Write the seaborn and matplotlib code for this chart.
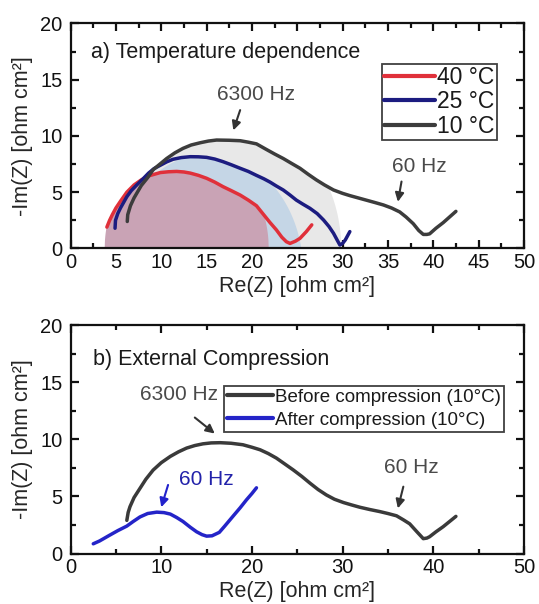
import numpy as np
import pandas as pd
import matplotlib
matplotlib.use("Agg")
import matplotlib.pyplot as plt
import seaborn as sns
from matplotlib.ticker import MultipleLocator

# ---------------- data ----------------
# Panel a) temperature dependence (Re, -Im in ohm cm²)
t40_re = [4.0, 4.3, 4.6, 5.0, 5.5, 6.2, 7.0, 7.8, 8.6, 9.9, 10.8, 11.7, 12.5, 13.2, 14.1, 15.0, 15.9, 16.8,
          17.7, 18.7, 19.6, 20.5, 21.2, 22.0, 22.7, 23.3, 23.8, 24.2, 24.8, 25.3, 26.0, 26.6]
t40_im = [1.9, 2.5, 3.0, 3.6, 4.2, 5.0, 5.65, 6.1, 6.45, 6.75, 6.82, 6.85, 6.8, 6.7, 6.5, 6.24, 5.9, 5.5,
          5.15, 4.75, 4.3, 3.8, 3.1, 2.3, 1.65, 1.0, 0.6, 0.45, 0.65, 0.9, 1.5, 2.1]

t25_re = [4.9, 4.95, 5.2, 5.5, 6.2, 6.7, 7.3, 8.0, 8.6, 9.2, 9.9, 10.6, 11.3, 12.2, 13.2, 14.1, 15.0, 15.9,
          16.8, 17.7, 18.7, 19.6, 20.5, 21.3, 22.0, 22.7, 23.45, 24.2, 24.9, 25.6, 26.4, 27.2, 27.9, 28.5,
          29.0, 29.4, 29.7, 30.0, 30.3, 30.8]
t25_im = [1.8, 2.5, 3.1, 3.6, 4.6, 5.15, 5.65, 6.2, 6.7, 7.1, 7.4, 7.7, 7.93, 8.08, 8.16, 8.15, 8.1, 7.95,
          7.72, 7.45, 7.13, 6.85, 6.5, 6.2, 5.9, 5.55, 5.2, 4.75, 4.3, 3.95, 3.57, 3.1, 2.53, 1.95,
          1.35, 0.75, 0.31, 0.45, 0.76, 1.5]

t10_re = [6.25, 6.3, 6.6, 7.0, 7.8, 8.5, 9.1, 10.0, 10.6, 11.5, 12.4, 13.3, 14.3, 15.2, 16.1, 17.5, 18.7,
          19.6, 20.5, 21.6, 22.5, 23.45, 24.4, 25.3, 26.2, 27.1, 28.0, 29.0, 30.0, 30.8, 31.7, 32.6, 33.5,
          34.5, 35.4, 36.3, 37.0, 37.8, 38.4, 38.9, 39.3, 39.6, 40.3, 41.1, 41.8, 42.5]
t10_im = [2.4, 3.0, 3.8, 4.5, 5.6, 6.3, 7.0, 7.6, 8.0, 8.5, 8.9, 9.2, 9.4, 9.55, 9.64, 9.62, 9.58,
          9.45, 9.3, 8.8, 8.4, 8.0, 7.55, 7.13, 6.6, 6.1, 5.65, 5.2, 4.9, 4.7, 4.5, 4.3, 4.1,
          3.87, 3.6, 3.25, 2.8, 2.2, 1.6, 1.25, 1.25, 1.3, 1.8, 2.3, 2.8, 3.3]

temp_labels = ["40 °C", "25 °C", "10 °C"]
temp_colors = ["#e0303a", "#1c1c80", "#3c3c3c"]
shade_colors = ["#c9a3b5", "#c5d6e6", "#e8e8e8"]
# fitted arcs (centre Re, centre -Im, radius) used for the shaded areas
arc_40 = (12.75, 0.0, 9.05)
arc_25 = (15.15, -2.0, 10.45)
arc_10 = (18.2, 0.0, 11.6)

# Panel b) external compression
before_re = [6.2, 6.35, 6.55, 7.0, 7.65, 8.3, 9.1, 10.0, 11.0, 11.9, 12.8, 13.7, 14.6, 15.5, 16.5, 17.7, 19.0,
             20.0, 20.9, 21.8, 22.7, 23.6, 24.55, 25.5, 26.4, 27.3, 28.2, 29.1, 30.1, 31.0, 31.9, 33.0, 34.1,
             35.0, 35.95, 36.7, 37.4, 38.2, 38.9, 39.3, 39.6, 40.3, 41.1, 41.8, 42.5]
before_im = [2.9, 3.6, 4.1, 4.9, 5.7, 6.5, 7.3, 7.95, 8.5, 8.9, 9.23, 9.45, 9.6, 9.68, 9.7, 9.65, 9.52,
             9.3, 9.08, 8.75, 8.35, 7.85, 7.32, 6.75, 6.16, 5.6, 5.13, 4.75, 4.46, 4.25, 4.05, 3.85, 3.67,
             3.5, 3.3, 2.95, 2.6, 1.9, 1.3, 1.35, 1.47, 1.9, 2.35, 2.8, 3.25]
after_re = [2.5, 3.2, 4.3, 5.2, 6.2, 6.9, 7.65, 8.5, 9.5, 10.3, 11.0, 11.7, 12.4, 13.2, 13.9, 14.5, 15.0,
            15.6, 16.4, 17.0, 17.9, 18.7, 19.4, 20.0, 20.5]
after_im = [0.85, 1.1, 1.6, 2.0, 2.4, 2.8, 3.2, 3.5, 3.62, 3.58, 3.45, 3.15, 2.8, 2.3, 1.9, 1.65, 1.52,
            1.55, 1.85, 2.4, 3.25, 4.0, 4.7, 5.25, 5.75]
comp_labels = ["Before compression (10°C)", "After compression (10°C)"]
comp_colors = ["#3a3a3a", "#2424c8"]

# ---------------- style ----------------
sns.set_style("ticks")
plt.rcParams["font.family"] = ["Liberation Sans", "DejaVu Sans"]
plt.rcParams["font.size"] = 15
plt.rcParams["axes.linewidth"] = 1.6
plt.rcParams["text.color"] = "#1a1a1a"
plt.rcParams["lines.solid_joinstyle"] = "round"
plt.rcParams["lines.solid_capstyle"] = "round"

fig = plt.figure(figsize=(5.39, 6.04), dpi=100)
ax1 = fig.add_axes([0.131, 0.5886, 0.841, 0.3725])
ax2 = fig.add_axes([0.131, 0.0836, 0.841, 0.3783])


def arc_fill(ax, re, im, arc, color):
    xc, yc, r = arc
    half = np.sqrt(r ** 2 - yc ** 2)
    x = np.linspace(xc - half, xc + half, 500)
    circ = yc + np.sqrt(np.clip(r ** 2 - (x - xc) ** 2, 0, None))
    curve = np.interp(x, re, im, left=im[0], right=0)
    top = np.clip(np.minimum(circ, curve), 0, None)
    ax.fill_between(x, 0, top, color=color, lw=0, zorder=1)


# ---- panel a
arc_fill(ax1, t10_re, t10_im, arc_10, shade_colors[2])
arc_fill(ax1, t25_re, t25_im, arc_25, shade_colors[1])
arc_fill(ax1, t40_re, t40_im, arc_40, shade_colors[0])

for re, im, lab, col in zip([t40_re, t25_re, t10_re], [t40_im, t25_im, t10_im], temp_labels, temp_colors):
    df = pd.DataFrame({"re": re, "im": im})
    sns.lineplot(data=df, x="re", y="im", sort=False, ax=ax1, color=col, lw=2.5, label=lab, zorder=3)

# ---- panel b
for re, im, lab, col in zip([before_re, after_re], [before_im, after_im], comp_labels, comp_colors):
    df = pd.DataFrame({"re": re, "im": im})
    sns.lineplot(data=df, x="re", y="im", sort=False, ax=ax2, color=col, lw=2.5, label=lab, zorder=3)

for ax, xmaj, xmin in [(ax1, 5, 2.5), (ax2, 10, 5)]:
    ax.set_xlim(0, 50)
    ax.set_ylim(0, 20)
    ax.xaxis.set_major_locator(MultipleLocator(xmaj))
    ax.xaxis.set_minor_locator(MultipleLocator(xmin))
    ax.yaxis.set_major_locator(MultipleLocator(5))
    ax.yaxis.set_minor_locator(MultipleLocator(2.5))
    ax.tick_params(which="both", direction="in", top=True, right=True, width=1.6,
                   labelsize=14.5, colors="#111111")
    ax.tick_params(axis="x", pad=3.5)
    ax.tick_params(axis="y", pad=6)
    ax.tick_params(which="major", length=6)
    ax.tick_params(which="minor", length=3.5)
    ax.set_xlabel("Re(Z) [ohm cm²]", fontsize=15.5, labelpad=2.5)
    ax.set_ylabel("-Im(Z) [ohm cm²]", fontsize=15.5, labelpad=5)
    for s in ax.spines.values():
        s.set_color("#111111")

ax1.text(2.2, 17.4, "a) Temperature dependence", fontsize=15.5, va="center", ha="left")
ax2.text(2.5, 17.0, "b) External Compression", fontsize=15.5, va="center", ha="left")

grey_txt = "#4a4a4a"
ax1.text(20.4, 13.7, "6300 Hz", ha="center", va="center", fontsize=15, color=grey_txt)
ax1.text(38.5, 7.3, "60 Hz", ha="center", va="center", fontsize=15, color=grey_txt)
ax2.text(11.95, 13.9, "6300 Hz", ha="center", va="center", fontsize=15, color=grey_txt)
ax2.text(37.6, 7.5, "60 Hz", ha="center", va="center", fontsize=15, color=grey_txt)
ax2.text(15.0, 6.45, "60 Hz", ha="center", va="center", fontsize=15, color="#2222aa")

ann = dict(arrowstyle="-|>", color="#333333", lw=1.5, mutation_scale=13, shrinkA=0, shrinkB=0)
ax1.annotate("", xy=(17.95, 10.5), xytext=(18.7, 12.3), arrowprops=ann)
ax1.annotate("", xy=(36.1, 4.15), xytext=(36.5, 5.95), arrowprops=ann)
ax2.annotate("", xy=(15.9, 10.5), xytext=(13.7, 11.9), arrowprops=ann)
ax2.annotate("", xy=(36.1, 3.95), xytext=(36.7, 5.85), arrowprops=ann)
ax2.annotate("", xy=(10.0, 4.05), xytext=(10.75, 6.0), arrowprops=dict(ann, color="#2222cc"))

leg1 = ax1.legend(loc="upper right", bbox_to_anchor=(0.940, 0.82), borderaxespad=0, fontsize=16.5,
                  handlelength=2.2, handletextpad=0.1, borderpad=0.1, labelspacing=0.05,
                  frameon=True, fancybox=False, edgecolor="#111111")
leg1.get_frame().set_linewidth(1.3)
for l in leg1.get_lines():
    l.set_linewidth(3)
leg2 = ax2.legend(loc="upper right", bbox_to_anchor=(0.956, 0.733), borderaxespad=0, fontsize=13.5,
                  handlelength=2.5, handletextpad=0.1, borderpad=0.15, labelspacing=0.3,
                  frameon=True, fancybox=False, edgecolor="#111111")
leg2.get_frame().set_linewidth(1.3)
for l in leg2.get_lines():
    l.set_linewidth(3)

fig.savefig("out.png", dpi=100)
